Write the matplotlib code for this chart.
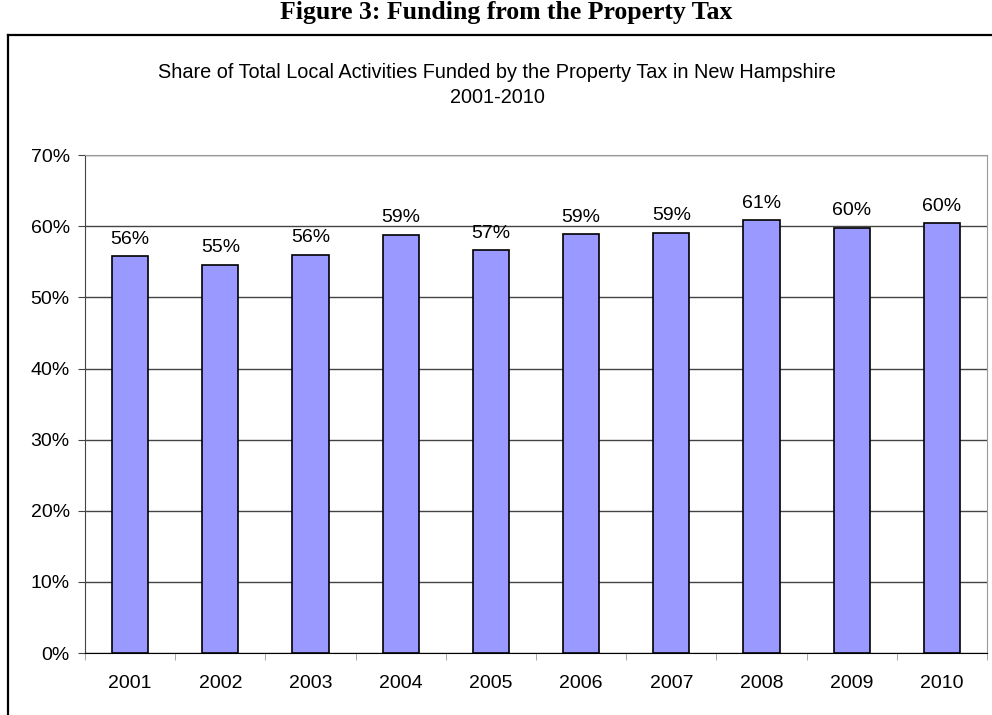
import matplotlib.pyplot as plt
from matplotlib.lines import Line2D
from matplotlib.ticker import PercentFormatter, FixedLocator

# Part des activités locales financées par la taxe foncière (NH)
years = ["2001", "2002", "2003", "2004", "2005", "2006", "2007", "2008", "2009", "2010"]
share = [0.558, 0.546, 0.560, 0.588, 0.566, 0.589, 0.591, 0.609, 0.598, 0.604]

plt.rcParams["font.family"] = ["Liberation Sans", "DejaVu Sans"]

fig = plt.figure(figsize=(9.92, 7.15), dpi=100)
ax = fig.add_axes([0.0857, 0.0867, 0.9093, 0.6963])

x = range(len(years))
bars = ax.bar(x, share, width=0.4, color="#9999ff", edgecolor="black", linewidth=1.2, zorder=3)

for b, v in zip(bars, share):
    ax.annotate(f"{v:.0%}", (b.get_x() + b.get_width() / 2, v), xytext=(0, 6),
                textcoords="offset points", ha="center", va="bottom", fontsize=14)

ax.set_xlim(-0.5, len(years) - 0.5)
ax.set_ylim(0, 0.70)
ax.set_yticks([i / 10 for i in range(8)])
ax.yaxis.set_major_formatter(PercentFormatter(1.0, decimals=0))
ax.grid(axis="y", color="#444444", linewidth=1.0, zorder=0)

ax.set_xticks(list(x))
ax.set_xticklabels(years)
ax.xaxis.set_minor_locator(FixedLocator([i - 0.5 for i in range(len(years) + 1)]))
ax.tick_params(axis="x", which="major", length=0, pad=16, labelsize=14)
ax.tick_params(axis="x", which="minor", length=5, color="#999999", direction="out")
ax.tick_params(axis="y", length=5, color="#444444", pad=6, labelsize=14)

ax.spines["left"].set_color("#444444")
ax.spines["bottom"].set_color("black")
ax.spines["top"].set_color("#999999")
ax.spines["right"].set_color("#999999")

# Titre du document et titre du graphique
fig.text(0.51, 0.982, "Figure 3: Funding from the Property Tax", ha="center", va="center",
         fontsize=18.5, fontweight="bold", family=["Liberation Serif", "DejaVu Serif"])
fig.text(0.501, 0.881, "Share of Total Local Activities Funded by the Property Tax in New Hampshire\n2001-2010",
         ha="center", va="center", fontsize=14.3, linespacing=1.45)

# Cadre autour du graphique
fig.add_artist(Line2D([0.008, 1.0], [0.951, 0.951], transform=fig.transFigure, color="black", linewidth=1.6))
fig.add_artist(Line2D([0.008, 0.008], [0.951, 0.0], transform=fig.transFigure, color="black", linewidth=1.6))

plt.savefig("out.png", dpi=100)
plt.close()
